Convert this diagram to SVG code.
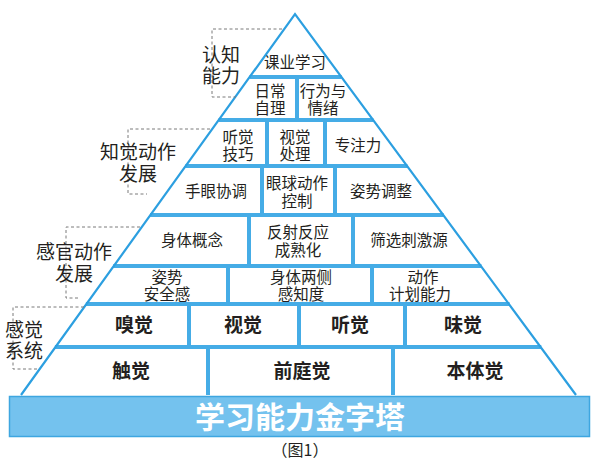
<svg xmlns="http://www.w3.org/2000/svg" width="600" height="464" viewBox="0 0 600 464">
<style>
text{font-family:"Liberation Sans","Noto Sans CJK SC",sans-serif;fill:#231f20;text-anchor:middle}
.c{font-size:15.5px}
.b{font-size:19px;font-weight:bold}
.side{font-size:19px}
.cell{fill:#fff;stroke:none}
.hl{stroke:#45ace6;stroke-width:4;fill:none}
.edge{stroke:#2c9fe0;stroke-width:2.2;fill:none;stroke-linejoin:miter}
.dash{stroke:#7a7a7a;stroke-width:1;stroke-dasharray:3 2.5;fill:none}
.title{font-size:30px;font-weight:bold;fill:#fff}
.cap{font-size:16px;font-family:"Noto Sans CJK SC",sans-serif}
</style>
<rect width="600" height="464" fill="#fff"/>
<polygon class="cell" points="295,14 21,394 576,394"/>

<g id="n-keye"><text class="c" x="295" y="68">课业学习</text></g>
<g id="n-richang"><text class="c" x="270" y="97">日常</text><text class="c" x="270" y="114">自理</text></g>
<g id="n-xingwei"><text class="c" x="323" y="97">行为与</text><text class="c" x="323" y="114">情绪</text></g>
<g id="n-tingjue-jq"><text class="c" x="238" y="143">听觉</text><text class="c" x="238" y="160">技巧</text></g>
<g id="n-shijue-cl"><text class="c" x="295" y="143">视觉</text><text class="c" x="295" y="160">处理</text></g>
<g id="n-zhuanzhu"><text class="c" x="358" y="151">专注力</text></g>
<g id="n-shouyan"><text class="c" x="216" y="197">手眼协调</text></g>
<g id="n-yanqiu"><text class="c" x="297" y="189">眼球动作</text><text class="c" x="297" y="207">控制</text></g>
<g id="n-zishi-tz"><text class="c" x="381" y="197">姿势调整</text></g>
<g id="n-shenti-gn"><text class="c" x="192" y="246">身体概念</text></g>
<g id="n-fanshe"><text class="c" x="298" y="238">反射反应</text><text class="c" x="298" y="256">成熟化</text></g>
<g id="n-shaixuan"><text class="c" x="409" y="246">筛选刺激源</text></g>
<g id="n-zishi-aq"><text class="c" x="167" y="283">姿势</text><text class="c" x="167" y="300">安全感</text></g>
<g id="n-liangce"><text class="c" x="301" y="283">身体两侧</text><text class="c" x="301" y="300">感知度</text></g>
<g id="n-dongzuo"><text class="c" x="423" y="283">动作</text><text class="c" x="420" y="300">计划能力</text></g>
<g id="n-xiujue"><text class="b" x="134" y="332">嗅觉</text></g>
<g id="n-shijue"><text class="b" x="243" y="332">视觉</text></g>
<g id="n-tingjue"><text class="b" x="350" y="332">听觉</text></g>
<g id="n-weijue"><text class="b" x="463" y="332">味觉</text></g>
<g id="n-chujue"><text class="b" x="131" y="378">触觉</text></g>
<g id="n-qianting"><text class="b" x="302" y="378">前庭觉</text></g>
<g id="n-benti"><text class="b" x="475" y="378">本体觉</text></g>

<g id="grid">
<path class="hl" d="M249.6,77H341.6M218.6,120H373.4M185.4,166H407.4M150.1,215H443.6M113.3,266H481.4M85.9,304H509.5M54.9,347H541.3"/>
<path class="hl" d="M297,77V120M267,120V166M325,120V166M262,166V215M335,166V215M249,215V266M353,215V266M228,266V304M372,266V304M189,304V347M299,304V347M405,304V347M208,347V395M393,347V395"/>
<polyline class="edge" points="21,395 295,14 576,395"/>
</g>

<g id="base">
<rect x="9.5" y="396.5" width="580" height="40" fill="#74c2ee" stroke="#3ea6e0" stroke-width="1.5"/>
<text class="title" x="300" y="428">学习能力金字塔</text>
</g>
<g id="caption"><text class="cap" x="300" y="456">（图1）</text></g>

<g id="connectors">
<path class="dash" d="M282,29H212V97H236"/>
<path class="dash" d="M210,129H128V194H147"/>
<path class="dash" d="M140,227H66V298H80"/>
<path class="dash" d="M84,307H13V369H37"/>
</g>

<g id="side-labels">
<g id="l-renzhi"><text class="side" x="221" y="62">认知</text><text class="side" x="221" y="83">能力</text></g>
<g id="l-zhijue"><text class="side" x="138" y="159">知觉动作</text><text class="side" x="138" y="181">发展</text></g>
<g id="l-ganguan"><text class="side" x="74" y="259">感官动作</text><text class="side" x="74" y="281">发展</text></g>
<g id="l-ganjue"><text class="side" x="24" y="337">感觉</text><text class="side" x="24" y="358">系统</text></g>
</g>
</svg>
